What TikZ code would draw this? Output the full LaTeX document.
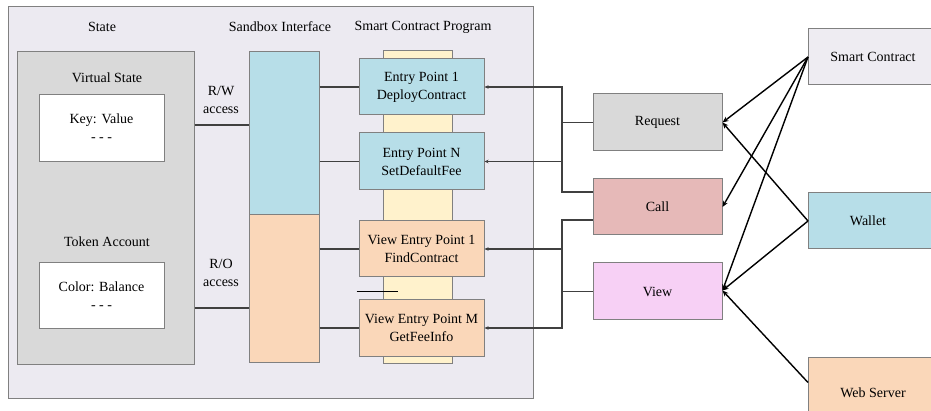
\documentclass[tikz,border=0pt]{standalone}
\usepackage{fontspec}
\setmainfont{Liberation Serif}
\usetikzlibrary{arrows.meta}
\definecolor{outerfill}{HTML}{ECEAF1}
\definecolor{grayfill}{HTML}{D9D9D9}
\definecolor{bluefill}{HTML}{B7DEE8}
\definecolor{peachfill}{HTML}{FAD7B9}
\definecolor{yellowfill}{HTML}{FFF2CC}
\definecolor{callfill}{HTML}{E6B9B8}
\definecolor{viewfill}{HTML}{F7D0F5}
\definecolor{scfill}{HTML}{EEECF2}
\definecolor{edge}{HTML}{808080}
\definecolor{treec}{HTML}{404040}
\tikzset{
  box/.style={draw=edge, line width=1pt, inner sep=0pt, align=center,
    font=\fontsize{14}{18}\selectfont},
  lbl/.style={inner sep=0pt, align=center, font=\fontsize{14}{18}\selectfont},
  tree/.style={draw=treec, line width=1.1pt},
  tip/.style={-{Stealth[length=4pt,width=3.5pt]}},
  ray/.style={draw=black, line width=1.4pt, -{Stealth[length=6pt,width=5pt]}},
}
\newcommand{\bx}[6]{% name, x1,y1,x2,y2, style+text
  \node[box, #6, minimum width={(#4-#2)*1pt}, minimum height={(#5-#3)*1pt}]
    (#1) at ({(#2+#4)/2},{(#3+#5)/2}) {};}
\begin{document}
\begin{tikzpicture}[x=1pt,y=-1pt]
\useasboundingbox (0,0) rectangle (931,411);
\fill[white] (0,0) rectangle (931,411);
\begin{scope}
\clip (0,0) rectangle (931,411);
% outer container
\bx{outer}{8}{7}{533}{398}{fill=outerfill}
\node[lbl] (tstate) at (102,27) {State};
\node[lbl] (tsand) at (280,27) {Sandbox Interface};
\node[lbl] (tprog) at (423,27) {Smart Contract Program};
% state
\bx{state}{17}{52}{194}{364}{fill=grayfill}
\node[lbl] (tvs) at (107,78) {Virtual State};
\bx{kv}{39}{95}{164}{162}{fill=white}
\node[lbl] (tkv) at (101.5,128) {Key: Value\\- - -};
\node[lbl] (tta) at (107,242) {Token Account};
\bx{cb}{39}{263}{164}{329}{fill=white}
\node[lbl] (tcb) at (101.5,296) {Color: Balance\\- - -};
% sandbox
\bx{sbw}{249}{52}{319}{215}{fill=bluefill}
\bx{sbr}{249}{215}{319}{362}{fill=peachfill}
% program strip
\bx{strip}{383}{51}{452}{363}{fill=yellowfill}
\node[box, fill=bluefill, minimum width=125pt, minimum height=56pt] (ep1) at (421.5,87) {Entry Point 1\\DeployContract};
\node[box, fill=bluefill, minimum width=125pt, minimum height=57pt] (epn) at (421.5,161.5) {Entry Point N\\SetDefaultFee};
\node[box, fill=peachfill, minimum width=125pt, minimum height=56pt] (vep1) at (421.5,249) {View Entry Point 1\\FindContract};
\node[box, fill=peachfill, minimum width=125pt, minimum height=56pt] (vepm) at (421.5,328) {View Entry Point M\\GetFeeInfo};
\draw[black, line width=1.1pt] ([yshift=8pt,xshift=-2pt]vepm.north west) -- ++(41,0);
% access lines
\coordinate (rw) at (0,125);
\coordinate (ro) at (0,308);
\draw[tree] (state.east |- rw) -- (sbw.west |- rw);
\draw[tree] (state.east |- ro) -- (sbr.west |- ro);
\node[lbl] (trw) at (221,100) {R/W\\access};
\node[lbl] (tro) at (221,273) {R/O\\access};
\draw[tree] (sbw.east |- ep1.west) -- (ep1.west);
\draw[tree] (sbw.east |- epn.west) -- (epn.west);
\draw[tree] (sbr.east |- vep1.west) -- (vep1.west);
\draw[tree] (sbr.east |- vepm.west) -- (vepm.west);
% request / call / view
\node[box, fill=grayfill, minimum width=129pt, minimum height=57pt] (req) at (657.5,122.5) {Request};
\node[box, fill=callfill, minimum width=129pt, minimum height=56pt] (call) at (657.5,207) {Call};
\node[box, fill=viewfill, minimum width=129pt, minimum height=57pt] (view) at (657.5,291.5) {View};
% trees
\coordinate (j1) at (562,192);
\coordinate (j2) at (562,220);
\draw[tree, tip] (call.west |- j1) -- (j1) |- (ep1.east);
\draw[tree, tip] (j1) |- (epn.east);
\draw[tree] (req.west) -- (req.west -| j1);
\draw[tree, tip] (call.west |- j2) -- (j2) |- (vep1.east);
\draw[tree, tip] (j2) |- (vepm.east);
\draw[tree] (view.west) -- (view.west -| j2);
% sources
\node[box, fill=scfill, minimum width=142pt, minimum height=56pt, anchor=west] (sc) at (808,57) {};
\node[lbl] (tsc) at (873,57) {Smart Contract};
\node[box, fill=bluefill, minimum width=142pt, minimum height=56pt, anchor=west] (wal) at (808,221) {};
\node[lbl] (twal) at (868,221) {Wallet};
\node[box, fill=peachfill, minimum width=142pt, minimum height=72pt, anchor=north west] (ws) at (808,357) {};
\node[lbl] (tws) at (873,393) {Web Server};
\draw[ray] (sc.west) -- (req.east);
\draw[ray] (sc.west) -- (call.east);
\draw[ray] (sc.west) -- ([yshift=1pt]view.east);
\draw[ray] (wal.west) -- (req.east);
\draw[ray] (wal.west) -- ([yshift=1pt]view.east);
\draw[ray] ([yshift=11pt]ws.west) -- ([yshift=1pt]view.east);
\end{scope}
\end{tikzpicture}
\end{document}
